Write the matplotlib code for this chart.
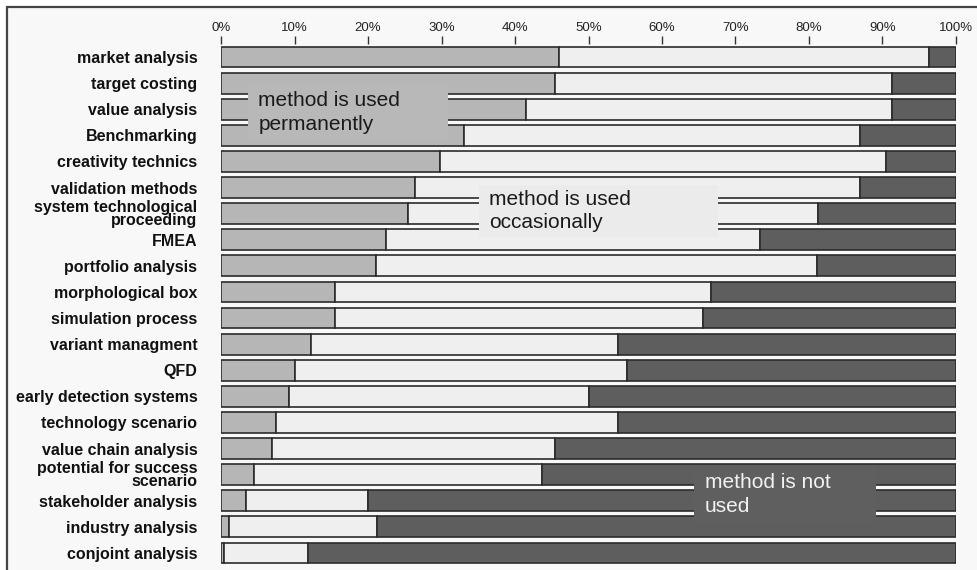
import numpy as np
import matplotlib
matplotlib.use('Agg')
import matplotlib.pyplot as plt
from matplotlib.patches import Rectangle

plt.rcParams['font.family'] = ['Liberation Sans', 'DejaVu Sans']

# data (share of companies, %)
methods = [
    'market analysis', 'target costing', 'value analysis', 'Benchmarking',
    'creativity technics', 'validation methods', 'system technological\nproceeding',
    'FMEA', 'portfolio analysis', 'morphological box', 'simulation process',
    'variant managment', 'QFD', 'early detection systems', 'technology scenario',
    'value chain analysis', 'potential for success\nscenario', 'stakeholder analysis',
    'industry analysis', 'conjoint analysis'
]
used_permanently = [46.0, 45.4, 41.5, 33.1, 29.8, 26.4, 25.4, 22.4, 21.1, 15.5,
                    15.5, 12.2, 10.1, 9.3, 7.5, 6.9, 4.5, 3.4, 1.1, 0.4]
used_occasionally = [50.3, 45.9, 49.8, 53.8, 60.7, 60.5, 55.8, 50.9, 60.0, 51.2,
                     50.1, 41.8, 45.1, 40.8, 46.5, 38.5, 39.2, 16.6, 20.1, 11.4]
not_used = [3.7, 8.7, 8.7, 13.1, 9.5, 13.1, 18.8, 26.7, 18.9, 33.3,
            34.4, 46.0, 44.8, 49.9, 46.0, 54.6, 56.3, 80.0, 78.8, 88.2]
xticks = [0, 10, 20, 30, 40, 50, 60, 70, 80, 90, 100]

colors = {'perm': '#b6b6b6', 'occ': '#efefef', 'not': '#5e5e5e'}
edge = '#2b2b2b'

fig = plt.figure(figsize=(9.77, 5.70), dpi=100)
fig.patch.set_facecolor('white')

# outer frame (only left and top line visible)
frame = Rectangle((7 / 977, -0.1), 1.1, 1.1 - 7 / 570, transform=fig.transFigure,
                  facecolor='#f8f8f8', edgecolor='#444444', linewidth=1.6, zorder=-10)
fig.add_artist(frame)

ax = fig.add_axes([221 / 977, 1 - 566 / 570, 735 / 977, 522 / 570])
ax.set_facecolor('none')

y = np.arange(len(methods))
perm = np.array(used_permanently)
occ = np.array(used_occasionally)
nou = np.array(not_used)

kw = dict(height=0.8, edgecolor=edge, linewidth=1.2)
ax.barh(y, perm, color=colors['perm'], **kw)
ax.barh(y, occ, left=perm, color=colors['occ'], **kw)
ax.barh(y, nou, left=perm + occ, color=colors['not'], **kw)

ax.set_xlim(0, 100)
ax.set_ylim(len(methods) - 0.5, -0.5)

ax.xaxis.tick_top()
ax.set_xticks(xticks)
ax.set_xticklabels([f'{t}%' for t in xticks], fontsize=9.5, color='#222222')
ax.tick_params(axis='x', direction='out', length=6, width=1, color='#333333', pad=1)
ax.set_yticks(y)
ax.set_yticklabels(methods, fontsize=11.5, fontweight='bold', color='#111111')
ax.tick_params(axis='y', length=0, pad=17)
for lab in ax.get_yticklabels():
    lab.set_linespacing(0.8)
for s in ax.spines.values():
    s.set_visible(False)

# category boxes
boxes = [
    ('method is used\npermanently', 3.7, 1.07, 27.2, 2.11, '#b8b8b8', '#1a1a1a'),
    ('method is used\noccasionally', 35.1, 4.9, 32.5, 2.0, '#ebebeb', '#1a1a1a'),
    ('method is not\nused', 64.4, 15.63, 24.7, 2.26, '#5f5f5f', '#f2f2f2'),
]
for txt, x0, y0, w, h, fc, tc in boxes:
    ax.add_patch(Rectangle((x0, y0), w, h, facecolor=fc, edgecolor='none', zorder=5))
    ax.text(x0 + 1.4, y0 + h / 2, txt, fontsize=15, color=tc, va='center', ha='left',
            linespacing=1.3, zorder=6)

fig.savefig('out.png', dpi=100, facecolor=fig.get_facecolor())
